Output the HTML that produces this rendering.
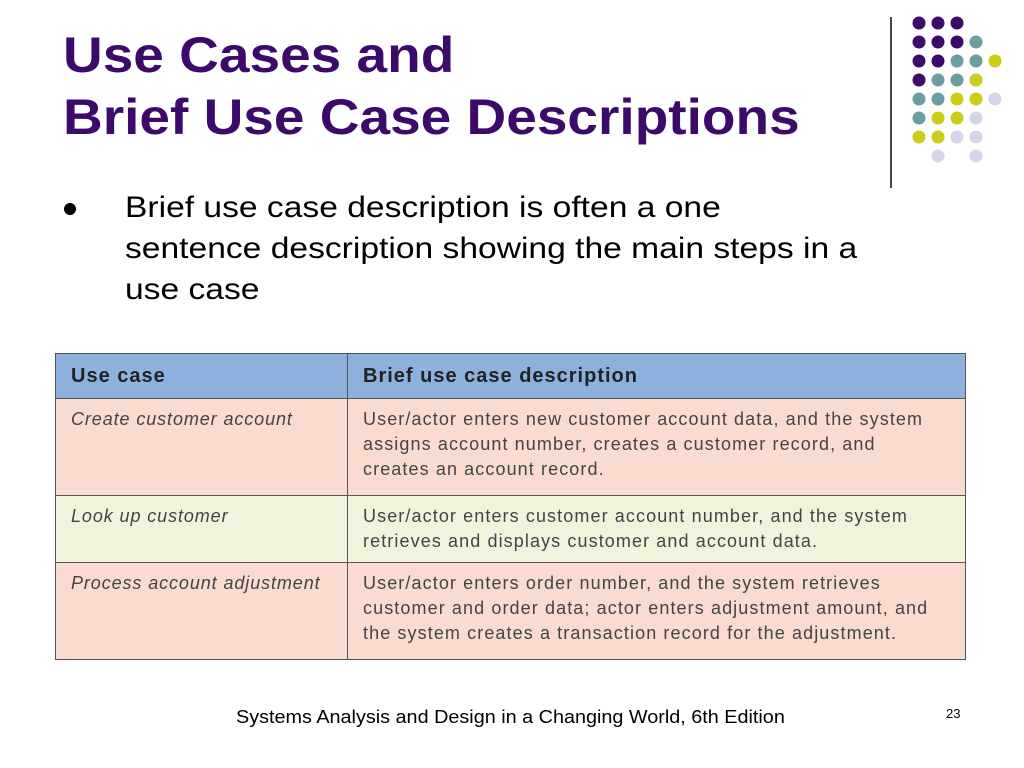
<!DOCTYPE html>
<html><head><style>
body{margin:0;width:1024px;height:768px;background:#fff;position:relative;overflow:hidden;font-family:"Liberation Sans",sans-serif}
.t{position:absolute;left:63px;top:24px;color:#3b0a6b;font-weight:bold;font-size:50px;line-height:62px;transform:scaleX(1.1);transform-origin:0 0;white-space:nowrap}
.b{position:absolute;left:125px;top:187px;font-size:30px;line-height:41px;color:#000;white-space:nowrap;transform:scaleX(1.12);transform-origin:0 0}
.dot{position:absolute;left:64px;top:203px;width:12px;height:12px;border-radius:50%;background:#000}
table{position:absolute;left:55px;top:353px;width:911px;border-collapse:collapse;font-size:18px;color:#444}
td{border:1.5px solid #555;vertical-align:top;padding:8px 15px;line-height:25px;white-space:nowrap;letter-spacing:1.1px}
th{border:1.5px solid #555;background:#8eb0dd;text-align:left;font-size:20px;color:#222;padding:0 15px;height:44px;letter-spacing:1px}
.p td{background:#fadbd0}.y td{background:#f2f3dd}
td.i{font-style:italic;width:261px;letter-spacing:0.9px}
.f{position:absolute;left:236px;top:707px;font-size:18px;transform:scaleX(1.1);transform-origin:0 0;white-space:nowrap}
.n{position:absolute;left:946px;top:706px;font-size:13px}
</style></head><body>
<div class="t">Use Cases and<br>Brief Use Case Descriptions</div>
<div class="dot"></div>
<div class="b">Brief use case description is often a one<br>sentence description showing the main steps in a<br>use case</div>
<div style="position:absolute;left:890px;top:17px;width:2px;height:171px;background:#444"></div>
<svg style="position:absolute;left:0;top:0" width="1024" height="200">
<g fill="#3b0a6b">
<circle cx="919" cy="23" r="6.5"/><circle cx="938" cy="23" r="6.5"/><circle cx="957" cy="23" r="6.5"/>
<circle cx="919" cy="42" r="6.5"/><circle cx="938" cy="42" r="6.5"/><circle cx="957" cy="42" r="6.5"/>
<circle cx="919" cy="61" r="6.5"/><circle cx="938" cy="61" r="6.5"/>
<circle cx="919" cy="80" r="6.5"/>
</g>
<g fill="#6a9ea0">
<circle cx="976" cy="42" r="6.5"/>
<circle cx="957" cy="61" r="6.5"/><circle cx="976" cy="61" r="6.5"/>
<circle cx="938" cy="80" r="6.5"/><circle cx="957" cy="80" r="6.5"/>
<circle cx="919" cy="99" r="6.5"/><circle cx="938" cy="99" r="6.5"/>
<circle cx="919" cy="118" r="6.5"/>
</g>
<g fill="#cccc1a">
<circle cx="995" cy="61" r="6.5"/>
<circle cx="976" cy="80" r="6.5"/>
<circle cx="957" cy="99" r="6.5"/><circle cx="976" cy="99" r="6.5"/>
<circle cx="938" cy="118" r="6.5"/><circle cx="957" cy="118" r="6.5"/>
<circle cx="919" cy="137" r="6.5"/><circle cx="938" cy="137" r="6.5"/>
</g>
<g fill="#d5d5e8">
<circle cx="995" cy="99" r="6.5"/>
<circle cx="976" cy="118" r="6.5"/>
<circle cx="957" cy="137" r="6.5"/><circle cx="976" cy="137" r="6.5"/>
<circle cx="938" cy="156" r="6.5"/><circle cx="976" cy="156" r="6.5"/>
</g>
</svg>
<table>
<tr><th style="width:261px">Use case</th><th>Brief use case description</th></tr>
<tr class="p" style="height:97px"><td class="i">Create customer account</td><td>User/actor enters new customer account data, and the system<br>assigns account number, creates a customer record, and<br>creates an account record.</td></tr>
<tr class="y" style="height:66px"><td class="i">Look up customer</td><td>User/actor enters customer account number, and the system<br>retrieves and displays customer and account data.</td></tr>
<tr class="p" style="height:97px"><td class="i">Process account adjustment</td><td>User/actor enters order number, and the system retrieves<br>customer and order data; actor enters adjustment amount, and<br>the system creates a transaction record for the adjustment.</td></tr>
</table>
<div class="f">Systems Analysis and Design in a Changing World, 6th Edition</div>
<div class="n">23</div>
</body></html>
